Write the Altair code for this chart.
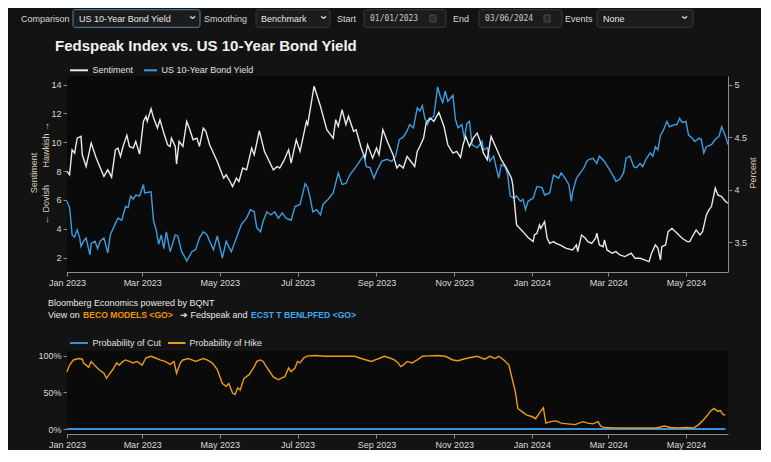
import altair as alt
import pandas as pd

FONT = "Liberation Sans, Arial, Helvetica, sans-serif"
MONO = "DejaVu Sans Mono, monospace"
NB = "\u00a0"

# ---------------- data (day offset from 2023-01-01, value) ----------------
sent_days = [0, 2, 4, 6, 8, 11, 12, 15, 19, 23, 29, 32, 35, 38, 40, 42, 44, 47, 49, 52, 54, 57,
             60, 62, 63, 66, 68, 71, 73, 76, 79, 81, 82, 85, 86, 88, 91, 94, 96, 99, 102, 104,
             107, 109, 112, 118, 123, 125, 128, 130, 133, 135, 138, 141, 145, 147, 151, 155,
             162, 165, 167, 170, 174, 176, 180, 183, 188, 189, 194, 199, 204, 206, 209, 211,
             213, 216, 219, 221, 225, 227, 231, 234, 236, 240, 243, 245, 248, 252, 256, 259,
             261, 264, 267, 269, 273, 275, 277, 280, 282, 285, 288, 292, 296, 299, 303, 306,
             309, 311, 313, 316, 319, 322, 324, 327, 330, 333, 337, 341, 345, 349, 350, 353,
             358, 362, 366, 367, 369, 371, 372, 375, 377, 379, 382, 384, 387, 392, 397, 400,
             401, 404, 407, 409, 412, 415, 416, 418, 421, 422, 424, 428, 431, 434, 438, 443,
             446, 450, 454, 457, 459, 462, 464, 466, 467, 470, 472, 475, 479, 483, 487, 489,
             491, 494, 497, 499, 502, 504, 506, 509, 511, 514, 517, 519]
sent_vals = [7.98, 7.74, 9.48, 9.25, 10.29, 10.41, 9.13, 8.32, 9.95, 8.90, 7.63, 8.09, 7.58, 9.48,
             9.60, 9.02, 9.71, 10.48, 9.71, 9.60, 10.06, 9.18, 11.45, 11.80, 11.45, 12.33, 11.68,
             10.99, 11.57, 10.64, 9.83, 9.71, 10.29, 9.71, 8.49, 10.06, 9.71, 11.45, 10.99, 10.18,
             10.29, 9.71, 10.99, 10.76, 9.83, 8.67, 7.51, 7.74, 7.28, 6.93, 7.51, 7.28, 8.21, 8.09,
             9.60, 9.13, 10.80, 9.37, 8.09, 8.32, 8.21, 8.67, 9.48, 8.55, 10.18, 9.37, 11.45, 11.22,
             13.89, 12.50, 10.87, 10.64, 10.29, 11.57, 11.10, 12.26, 11.22, 11.80, 10.76, 10.87,
             9.60, 8.90, 9.83, 8.90, 9.60, 9.13, 10.87, 9.95, 9.13, 8.21, 8.44, 8.21, 9.02, 8.79,
             8.32, 9.37, 9.71, 10.29, 11.34, 11.68, 11.45, 12.08, 11.10, 9.83, 9.25, 9.37, 8.95,
             9.83, 10.41, 9.71, 10.29, 10.64, 10.18, 9.25, 8.79, 10.41, 9.60, 8.79, 8.21, 7.51,
             7.05, 4.27, 3.80, 3.39, 3.11, 3.57, 3.69, 4.27, 4.03, 4.50, 3.34, 2.99, 3.11, 2.99,
             2.88, 2.64, 2.53, 2.88, 2.41, 3.57, 3.34, 3.11, 2.99, 3.34, 3.69, 2.88, 2.76, 3.22,
             2.53, 2.30, 2.41, 2.18, 2.07, 2.30, 1.95, 1.95, 1.83, 1.72, 2.30, 2.88, 2.64, 1.83,
             2.76, 2.88, 3.80, 4.03, 3.69, 3.34, 3.11, 3.11, 3.46, 3.92, 3.57, 3.80, 4.96, 5.31,
             5.54, 6.82, 6.35, 6.24, 5.89, 5.77]

yield_days = [0, 2, 3, 4, 6, 8, 10, 11, 13, 15, 18, 19, 22, 24, 26, 29, 32, 34, 38, 40, 43, 46,
              48, 50, 52, 54, 57, 60, 61, 66, 68, 70, 72, 74, 76, 78, 81, 85, 87, 90, 93, 94, 98,
              101, 104, 107, 110, 112, 115, 118, 122, 125, 129, 133, 137, 141, 144, 147, 149,
              152, 154, 157, 160, 163, 166, 169, 172, 176, 179, 183, 187, 189, 191, 193, 196,
              199, 201, 205, 209, 213, 216, 219, 222, 227, 233, 235, 238, 241, 243, 247, 251,
              255, 258, 261, 264, 267, 269, 272, 275, 277, 279, 281, 283, 285, 288, 291, 293,
              295, 297, 299, 303, 305, 307, 310, 312, 314, 316, 318, 322, 326, 327, 330, 332,
              335, 337, 339, 341, 344, 346, 348, 351, 353, 356, 358, 360, 362, 366, 369, 373,
              375, 379, 382, 386, 388, 391, 394, 396, 397, 400, 403, 406, 408, 410, 413, 416,
              418, 422, 425, 429, 431, 434, 437, 439, 442, 445, 447, 450, 452, 455, 458, 460,
              462, 464, 466, 468, 471, 473, 477, 479, 481, 483, 486, 488, 491, 493, 496, 498,
              500, 502, 506, 509, 512, 514, 517, 519]
yield_vals = [3.89, 3.83, 3.71, 3.57, 3.55, 3.62, 3.54, 3.46, 3.51, 3.54, 3.38, 3.49, 3.51, 3.44,
              3.51, 3.54, 3.40, 3.57, 3.68, 3.73, 3.71, 3.84, 3.83, 3.94, 3.91, 3.95, 3.94, 4.05,
              3.97, 3.98, 3.70, 3.62, 3.48, 3.57, 3.44, 3.60, 3.41, 3.57, 3.56, 3.41, 3.35, 3.32,
              3.41, 3.43, 3.54, 3.60, 3.57, 3.51, 3.43, 3.56, 3.35, 3.51, 3.41, 3.54, 3.67, 3.73,
              3.81, 3.79, 3.64, 3.60, 3.70, 3.79, 3.76, 3.79, 3.73, 3.78, 3.73, 3.71, 3.84, 3.86,
              4.06, 4.02, 3.92, 3.79, 3.81, 3.76, 3.86, 3.91, 3.97, 4.16, 4.05, 4.06, 4.14, 4.22,
              4.33, 4.22, 4.21, 4.11, 4.17, 4.27, 4.29, 4.27, 4.32, 4.48, 4.50, 4.56, 4.62, 4.59,
              4.78, 4.75, 4.80, 4.68, 4.62, 4.67, 4.70, 4.98, 4.89, 4.83, 4.94, 4.84, 4.90, 4.67,
              4.59, 4.62, 4.49, 4.63, 4.65, 4.43, 4.40, 4.46, 4.38, 4.40, 4.27, 4.32, 4.21, 4.11,
              4.24, 4.22, 4.14, 3.94, 3.92, 3.94, 3.89, 3.91, 3.81, 3.89, 3.92, 4.03, 4.02, 3.95,
              3.97, 4.14, 4.11, 4.16, 4.11, 4.05, 3.89, 3.98, 4.11, 4.16, 4.21, 4.27, 4.29, 4.30,
              4.25, 4.32, 4.27, 4.21, 4.13, 4.08, 4.10, 4.16, 4.30, 4.32, 4.22, 4.21, 4.25, 4.22,
              4.30, 4.35, 4.32, 4.41, 4.38, 4.52, 4.56, 4.65, 4.60, 4.62, 4.62, 4.68, 4.64, 4.65,
              4.52, 4.49, 4.46, 4.49, 4.48, 4.35, 4.41, 4.43, 4.48, 4.51, 4.60, 4.51, 4.43]

hike_days = [0, 2, 5, 9, 12, 13, 15, 17, 19, 22, 25, 29, 31, 33, 36, 39, 41, 44, 46, 49, 52, 55,
             59, 62, 66, 69, 73, 77, 81, 84, 86, 89, 91, 95, 98, 101, 104, 107, 110, 114, 118,
             122, 125, 127, 130, 132, 134, 136, 139, 143, 147, 149, 152, 154, 158, 162, 166, 169,
             171, 174, 176, 179, 181, 183, 186, 189, 195, 203, 210, 218, 226, 231, 235, 239, 242,
             245, 249, 253, 257, 260, 262, 264, 267, 271, 275, 279, 284, 291, 297, 303, 307, 311,
             316, 322, 328, 332, 336, 339, 343, 347, 350, 352, 354, 357, 361, 365, 368, 371, 374,
             376, 380, 384, 388, 393, 399, 405, 409, 413, 417, 419, 422, 430, 442, 453, 463, 469,
             474, 480, 486, 492, 496, 500, 503, 505, 508, 511, 513, 515, 517]
hike_vals = [78, 87, 94, 96, 95, 90, 87, 84, 92, 86, 81, 76, 69, 74, 81, 90, 87, 92, 94, 92, 90,
             92, 87, 97, 99, 97, 94, 92, 88, 92, 76, 90, 94, 96, 94, 92, 94, 96, 94, 90, 81, 62,
             58, 62, 49, 47, 56, 53, 69, 74, 85, 92, 94, 92, 81, 71, 67, 70, 71, 83, 78, 83, 92,
             90, 97, 99.5, 100, 99, 99, 99, 99, 96, 94, 92, 94, 96, 99, 97, 94, 90, 85, 87, 92,
             90, 94, 99, 99.5, 100, 99, 94, 93, 95, 97, 99, 95, 99, 96, 99, 94, 87, 65, 51, 28,
             24, 19, 17, 14, 22, 29, 8, 10, 11, 8, 7, 6, 10, 8, 7, 10, 4, 2, 1.4, 1.4, 1.4, 1.4,
             4, 2, 1.4, 2, 1.4, 6, 13, 19, 24, 28, 24, 25, 20, 19]

cut_days = [0, 517]
cut_vals = [0, 0]

x_tick_months = [(2023, 1), (2023, 3), (2023, 5), (2023, 7), (2023, 9), (2023, 11),
                 (2024, 1), (2024, 3), (2024, 5)]
sent_ticks = [2, 4, 6, 8, 10, 12, 14]
yield_ticks = [3.5, 4, 4.5, 5]
prob_ticks = [0, 50, 100]

START = pd.Timestamp("2023-01-01")


def frame(days, vals):
    return pd.DataFrame({"date": [START + pd.Timedelta(days=d) for d in days], "value": vals})


sent_df = frame(sent_days, sent_vals)
yield_df = frame(yield_days, yield_vals)
hike_df = frame(hike_days, hike_vals)
cut_df = frame(cut_days, cut_vals)

# ---------------- layout ----------------
W, H = 661, 358
MAIN_H = 196
BOT_TOP = 275

x_domain = [alt.DateTime(year=2023, month=1, date=1), alt.DateTime(year=2024, month=6, date=3)]
x_ticks = [alt.DateTime(year=y, month=m, date=1) for y, m in x_tick_months]

LABEL = "#dcd8d0"
AXIS = "#8c8c8c"


def xenc(axis):
    return alt.X("date:T", scale=alt.Scale(domain=x_domain), axis=axis, title=None)


def xaxis(offset=0):
    return alt.Axis(orient="bottom", format="%b %Y", values=x_ticks, offset=offset,
                    labelFlush=False, labelOverlap=False, title=None)


one = pd.DataFrame({"k": [0]})


def box(x0, x1, y0, y1, fill, stroke, sw=1, radius=2):
    return alt.Chart(one).mark_rect(fill=fill, stroke=stroke, strokeWidth=sw,
                                    cornerRadius=radius).encode(
        x=alt.value(x0), x2=alt.value(x1), y=alt.value(y0), y2=alt.value(y1))


def plain(x0, x1, y0, y1, fill):
    return alt.Chart(one).mark_rect(fill=fill).encode(
        x=alt.value(x0), x2=alt.value(x1), y=alt.value(y0), y2=alt.value(y1))


def txt(s, x, y, size=9, color="#d8d8d8", weight="normal", angle=0, font=FONT,
        baseline="middle", align="left", lineHeight=None):
    kw = dict(text=s, align=align, baseline=baseline, fontSize=size, color=color,
              fontWeight=weight, font=font)
    if angle:
        kw["angle"] = angle
    if lineHeight:
        kw["lineHeight"] = lineHeight
    return alt.Chart(one).mark_text(**kw).encode(x=alt.value(x), y=alt.value(y))


def seg(x0, x1, y, color, sw=2):
    return alt.Chart(one).mark_rule(color=color, strokeWidth=sw).encode(
        x=alt.value(x0), x2=alt.value(x1), y=alt.value(y))


layers = []
# plot backgrounds
layers.append(plain(0, W, 0, MAIN_H, "#0a0a0a"))
layers.append(plain(0, W, BOT_TOP, H, "#0a0a0a"))

# ---- main panel lines ----
sent_line = alt.Chart(sent_df).mark_line(color="#e8e8e8", strokeWidth=1.4).encode(
    x=xenc(xaxis(offset=-(H - MAIN_H))),
    y=alt.Y("value:Q", title=None,
            scale=alt.Scale(domain=[1.0, 14.6], range=[MAIN_H, 0], nice=False, zero=False),
            axis=alt.Axis(orient="left", values=sent_ticks, title=None, domainColor="#b0b0b0")))
yield_line = alt.Chart(yield_df).mark_line(color="#3b9de0", strokeWidth=1.4).encode(
    x=xenc(None),
    y=alt.Y("value:Q", title=None,
            scale=alt.Scale(domain=[3.217, 5.083], range=[MAIN_H, 0], nice=False, zero=False),
            axis=alt.Axis(orient="right", values=yield_ticks, format="~g", title=None)))
layers += [yield_line, sent_line]

# ---- bottom panel lines ----
prob_scale = alt.Scale(domain=[-6.8, 106.2], range=[H, BOT_TOP], nice=False, zero=False)
cut_line = alt.Chart(cut_df).mark_line(color="#3a8fd9", strokeWidth=2).encode(
    x=xenc(None),
    y=alt.Y("value:Q", title=None, scale=prob_scale, axis=None))
hike_line = alt.Chart(hike_df).mark_line(color="#e99b12", strokeWidth=1.4).encode(
    x=xenc(xaxis()),
    y=alt.Y("value:Q", title=None, scale=prob_scale,
            axis=alt.Axis(orient="left", values=prob_ticks, labelExpr="datum.value + '%'",
                          title=None)))
layers += [cut_line, hike_line]

# ---- controls bar ----
BY0, BY1, BYC = -66.3, -48.7, -57.5
layers.append(txt("Comparison", -46, BYC))
layers.append(box(6, 133, BY0, BY1, "#1c1c1c", "#5582b0"))
layers.append(txt("US 10-Year Bond Yield", 12, BYC, color="#e6e6e6"))
layers.append(txt("›", 126, BYC - 1, size=13, color="#cfcfcf", weight="bold", angle=90,
                  align="center"))
layers.append(txt("Smoothing", 137, BYC))
layers.append(box(189, 263, BY0, BY1, "#1c1c1c", "#3a3a3a"))
layers.append(txt("Benchmark", 194, BYC, color="#e6e6e6"))
layers.append(txt("›", 257, BYC - 1, size=13, color="#cfcfcf", weight="bold", angle=90,
                  align="center"))
layers.append(txt("Start", 270, BYC))
layers.append(box(297, 379, BY0, BY1, "#1c1c1c", "#3a3a3a"))
layers.append(txt("01/01/2023", 303, BYC, size=8, color="#c8c8c8", font=MONO))
layers.append(box(363, 369, BYC - 3.5, BYC + 3.5, "#2a2a2a", "#4a4a4a", radius=0))
layers.append(txt("End", 386, BYC))
layers.append(box(412, 495, BY0, BY1, "#1c1c1c", "#3a3a3a"))
layers.append(txt("03/06/2024", 418, BYC, size=8, color="#c8c8c8", font=MONO))
layers.append(box(477, 483, BYC - 3.5, BYC + 3.5, "#2a2a2a", "#4a4a4a", radius=0))
layers.append(txt("Events", 498, BYC))
layers.append(box(530, 626, BY0, BY1, "#1c1c1c", "#3a3a3a"))
layers.append(txt("None", 536, BYC, color="#e6e6e6"))
layers.append(txt("›", 618, BYC - 1, size=13, color="#cfcfcf", weight="bold", angle=90,
                  align="center"))

# ---- title and legends ----
layers.append(txt("Fedspeak Index vs. US 10-Year Bond Yield", -12, -25, size=15,
                  color="#f0f0f0", weight="bold", baseline="alphabetic"))
layers.append(seg(3, 21, -5.7, "#e8e8e8"))
layers.append(txt("Sentiment", 25.5, -5.7, color="#e0e0e0"))
layers.append(seg(77, 90, -5.7, "#3b9de0"))
layers.append(txt("US 10-Year Bond Yield", 94.5, -5.7, color="#e0e0e0"))

# axis titles
layers.append(txt(["Sentiment", "←" + NB + "Dovish" + NB * 7 + "Hawkish" + NB + "→"], -33, 97,
                  size=9, color="#d6ccbc", angle=270, align="center", lineHeight=12))
layers.append(txt("Percent", 686, 97, size=9, color="#d6ccbc", angle=270, align="center"))

# footer
layers.append(txt("Bloomberg Economics powered by BQNT", -19, 227, color="#e8e8e8"))
layers.append(txt("View on ", -19, 238.7, color="#e8e8e8"))
layers.append(txt("BECO MODELS <GO>", 16, 238.7, size=8.6, color="#f39200", weight="bold"))
layers.append(txt("➔ Fedspeak and", 113, 238.7, color="#e8e8e8"))
layers.append(txt("ECST T BENLPFED <GO>", 184, 238.7, size=8.6, color="#3fa9f5",
                  weight="bold"))

# bottom legend
layers.append(seg(3, 21, 267, "#3a8fd9"))
layers.append(txt("Probability of Cut", 25.5, 267, color="#e0e0e0"))
layers.append(seg(101, 118.5, 267, "#e99b12"))
layers.append(txt("Probability of Hike", 122.5, 267, color="#e0e0e0"))

chart = (
    alt.layer(*layers)
    .resolve_scale(y="independent")
    .resolve_axis(x="independent", y="independent")
    .properties(
        width=W, height=H, background="#131313",
        padding={"left": 59, "top": 68, "right": 33, "bottom": 16},
        autosize=alt.AutoSizeParams(type="none"),
    )
    .configure_view(stroke=None)
    .configure_axis(
        labelFont=FONT, labelFontSize=9, labelColor=LABEL, domainColor=AXIS,
        tickColor=AXIS, tickSize=4, labelPadding=2, grid=False, domainWidth=1,
    )
)

chart.save("out.html", embed_options={"renderer": "svg", "actions": False})
